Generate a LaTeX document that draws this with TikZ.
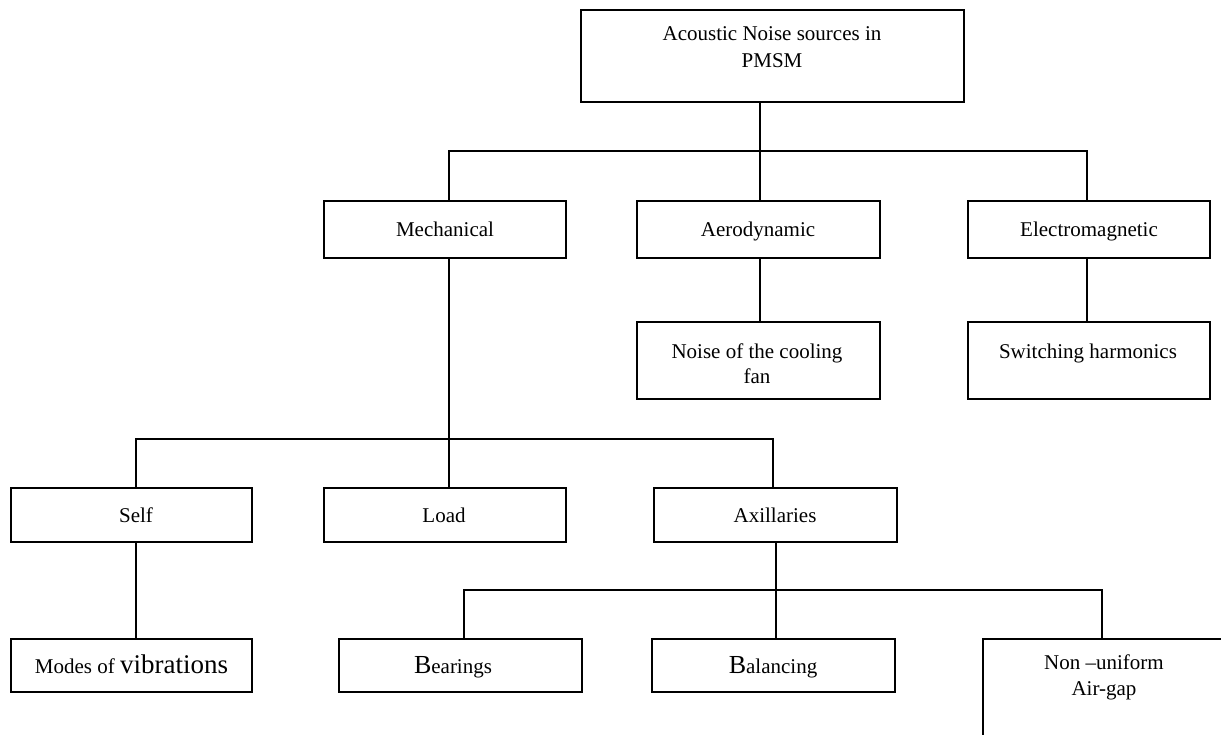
\documentclass[tikz,border=0pt]{standalone}
\usepackage{fontspec}
\setmainfont{Liberation Serif}
\begin{document}
\begin{tikzpicture}[x=1pt,y=-1pt,
  box/.style={draw=black, line width=1.8pt, rectangle, inner sep=0pt, outer sep=0pt},
  conn/.style={draw=black, line width=1.8pt},
  txt/.style={anchor=base, inner sep=0pt, font=\fontsize{21}{25}\selectfont}]
\fill[white] (0,0) rectangle (1221,734);
\useasboundingbox (0,0) rectangle (1221,734);
\clip (0,0) rectangle (1221,734);

% level 0
\node[box, minimum width=383, minimum height=92] (src) at (772.5,56) {};
\node[txt] (srcT1) at (772,40) {Acoustic Noise sources in};
\node[txt] (srcT2) at (772,67) {PMSM};

% level 1
\node[box, minimum width=242, minimum height=57] (mech) at (445,229.5) {};
\node[box, minimum width=243, minimum height=57] (aero) at (758.5,229.5) {};
\node[box, minimum width=242, minimum height=57] (elec) at (1089,229.5) {};
\node[txt] (mechT) at (445,236) {Mechanical};
\node[txt] (aeroT) at (758,236) {Aerodynamic};
\node[txt] (elecT) at (1089,236) {Electromagnetic};

% level 2 (right)
\node[box, minimum width=243, minimum height=77] (fan) at (758.5,360.5) {};
\node[box, minimum width=242, minimum height=77] (sw) at (1089,360.5) {};
\node[txt] (fanT1) at (757,358) {Noise of the cooling};
\node[txt] (fanT2) at (757,383) {fan};
\node[txt] (swT) at (1088,358) {Switching harmonics};

% level 2 (mechanical)
\node[box, minimum width=241, minimum height=54] (self) at (131.5,515) {};
\node[box, minimum width=242, minimum height=54] (load) at (445,515) {};
\node[box, minimum width=243, minimum height=54] (axil) at (775.5,515) {};
\node[txt] (selfT) at (136,522) {Self};
\node[txt] (loadT) at (444,522) {Load};
\node[txt] (axilT) at (775,522) {Axillaries};

% level 3
\node[box, minimum width=241, minimum height=53] (modes) at (131.5,665.5) {};
\node[box, minimum width=243, minimum height=53] (bear) at (460.5,665.5) {};
\node[box, minimum width=243, minimum height=53] (bal) at (773.5,665.5) {};
\node[box, minimum width=242, minimum height=122] (nonu) at (1104,700) {};
\node[txt] (modesT) at (131.5,673) {Modes of {\fontsize{27}{30}\selectfont vibrations}};
\node[txt] (bearT) at (453,673) {{\fontsize{26}{30}\selectfont B}earings};
\node[txt] (balT) at (773,673) {{\fontsize{26}{30}\selectfont B}alancing};
\node[txt] (nonuT1) at (1104,669) {Non --uniform};
\node[txt] (nonuT2) at (1104,695) {Air-gap};

% bus levels
\coordinate (bus1) at (0,151);
\coordinate (bus3) at (0,439);
\coordinate (bus4) at (0,590);

% connectors
\draw[conn] ([xshift=1.5]src.south -| aero.north) -- ([xshift=1.5]aero.north);
\draw[conn] ([xshift=4]mech.north) |- ([xshift=-2]bus1 -| elec.north) -- ([xshift=-2]elec.north);
\draw[conn] ([xshift=1.5]aero.south) -- ([xshift=1.5]fan.north);
\draw[conn] ([xshift=-2]elec.south) -- ([xshift=-2]sw.north);
\draw[conn] ([xshift=4]mech.south) -- ([xshift=4]load.north);
\draw[conn] ([xshift=4.5]self.north) |- ([xshift=-2.5]axil.north |- bus3) -- ([xshift=-2.5]axil.north);
\draw[conn] ([xshift=4.5]self.south) -- ([xshift=4.5]modes.north);
\draw[conn] ([xshift=0.5]axil.south) -- ([xshift=0.5]axil.south |- bal.north);
\draw[conn] ([xshift=3.5]bear.north) |- ([xshift=-2]nonu.north |- bus4) -- ([xshift=-2]nonu.north);
\end{tikzpicture}
\end{document}
